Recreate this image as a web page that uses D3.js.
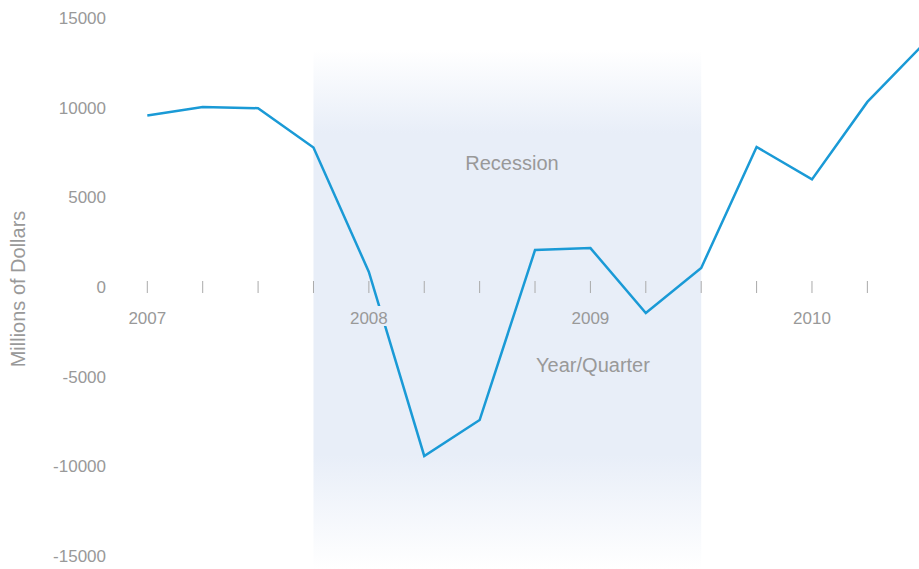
<!DOCTYPE html>
<html>
<head>
<meta charset="utf-8">
<script src="https://cdn.jsdelivr.net/npm/d3@7"></script>
<style>
  html, body { margin: 0; padding: 0; background: #fff; }
  svg { display: block; }
  text { font-family: "Liberation Sans", Arial, Helvetica, sans-serif; fill: #999; }
</style>
</head>
<body>
<svg id="chart" width="919" height="569"></svg>
<script>
// Data (quarterly values, millions of dollars)
const quarters = ["2007Q1","2007Q2","2007Q3","2007Q4","2008Q1","2008Q2","2008Q3","2008Q4",
                  "2009Q1","2009Q2","2009Q3","2009Q4","2010Q1","2010Q2","2010Q3"];
const values = [9560, 10040, 9970, 7780, 840, -9420, -7420, 2060,
                2170, -1450, 1060, 7810, 6000, 10320, 13500];
const yearLabels = ["2007", "2008", "2009", "2010"];
const yearIndex = [0, 4, 8, 12];
const yTicks = [-15000, -10000, -5000, 0, 5000, 10000, 15000];
const recession = ["2007Q4", "2009Q3"];

const W = 919, H = 569;
const BAND = "#e8eef8";
const svg = d3.select("#chart");

const x = d3.scaleLinear().domain([0, 14]).range([147.3, 147.3 + 14 * 55.39]);
const y = d3.scaleLinear().domain([-15000, 15000]).range([556, 18]);

const defs = svg.append("defs");
const grad = defs.append("linearGradient")
  .attr("id", "recGrad").attr("gradientUnits", "userSpaceOnUse")
  .attr("x1", 0).attr("x2", 0).attr("y1", 50).attr("y2", 569);
[[0, BAND, 0], [0.16, BAND, 1], [0.78, BAND, 1], [1, BAND, 0]]
  .forEach(([o, c, a]) => grad.append("stop").attr("offset", o).attr("stop-color", c).attr("stop-opacity", a));

// Recession band
const i0 = quarters.indexOf(recession[0]);
const i1 = quarters.indexOf(recession[1]);
const r0 = x(i0), r1 = x(i1);
svg.append("rect")
  .attr("x", r0).attr("y", 50)
  .attr("width", r1 - r0).attr("height", H - 50)
  .attr("fill", "url(#recGrad)");

// Y axis labels
svg.append("g").selectAll("text").data(yTicks).join("text")
  .attr("x", 106).attr("y", d => y(d))
  .attr("dy", "0.35em")
  .attr("text-anchor", "end")
  .attr("font-size", 17)
  .text(d => d);

// X tick marks along zero
svg.append("g").selectAll("line").data(d3.range(quarters.length + 1)).join("line")
  .attr("x1", d => x(d)).attr("x2", d => x(d))
  .attr("y1", y(0) - 6).attr("y2", y(0) + 6)
  .attr("stroke", "#aaa").attr("stroke-width", 1);

// Line
const line = d3.line().x((d, i) => x(i)).y(d => y(d));
svg.append("path")
  .datum(values)
  .attr("d", line)
  .attr("fill", "none")
  .attr("stroke", "#1a9ad6")
  .attr("stroke-width", 2.5)
  .attr("stroke-linejoin", "miter");

// Year labels with background boxes covering the line
const yl = svg.append("g");
yl.selectAll("rect").data(yearLabels).join("rect")
  .attr("x", (d, i) => x(yearIndex[i]) - 22)
  .attr("y", 306)
  .attr("width", 44).attr("height", 20)
  .attr("fill", (d, i) => (yearIndex[i] > i0 && yearIndex[i] < i1) ? BAND : "#fff");
yl.selectAll("text").data(yearLabels).join("text")
  .attr("x", (d, i) => x(yearIndex[i]))
  .attr("y", 324)
  .attr("text-anchor", "middle")
  .attr("font-size", 17)
  .text(d => d);

// Annotations
svg.append("text").attr("x", 512).attr("y", 170)
  .attr("text-anchor", "middle").attr("font-size", 20).text("Recession");
svg.append("text").attr("x", 593).attr("y", 372)
  .attr("text-anchor", "middle").attr("font-size", 20).text("Year/Quarter");
svg.append("text")
  .attr("transform", "translate(25,289) rotate(-90)")
  .attr("text-anchor", "middle").attr("font-size", 20).text("Millions of Dollars");
</script>
</body>
</html>
